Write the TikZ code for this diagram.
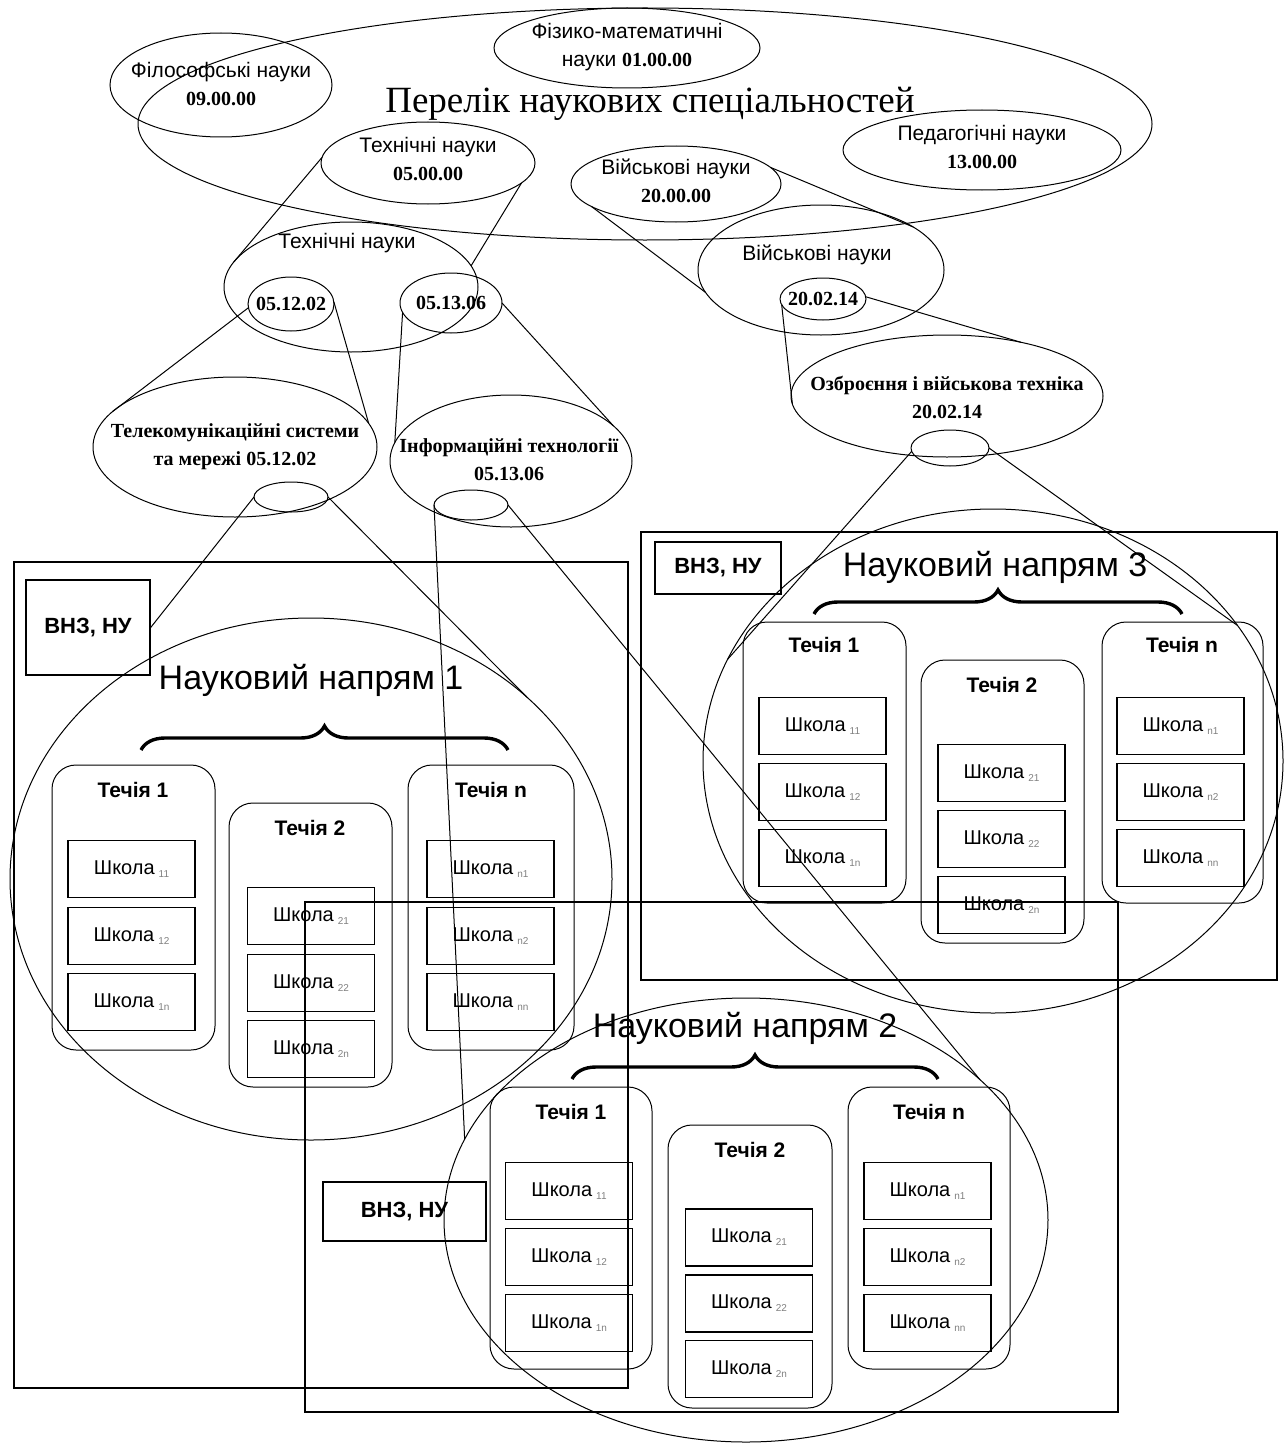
\documentclass[tikz,border=0pt]{standalone}
\usepackage{fontspec}
\setmainfont{Liberation Serif}
\setsansfont{Liberation Sans}
\usetikzlibrary{shapes.geometric,decorations.pathreplacing}
\newcommand{\kod}[1]{{\rmfamily\bfseries\fontsize{10}{12}\selectfont #1}}
\newcommand{\indx}[1]{\hspace{2pt}\raisebox{-1.5pt}{\textcolor{gray}{\fontsize{5}{6}\selectfont #1}}}

\begin{document}
\begin{tikzpicture}[x=0.5pt,y=0.5pt,yscale=-1,xscale=1,
 ell/.style={draw,ellipse,inner sep=0pt,outer sep=0pt,line width=0.5pt},
 nauka/.style={font=\sffamily\fontsize{10.5}{14}\selectfont,align=center,inner sep=0pt},
 kodtxt/.style={font=\bfseries\fontsize{10}{14}\selectfont,align=center,inner sep=0pt},
 napryam/.style={font=\sffamily\fontsize{17}{20}\selectfont,inner sep=0pt},
 techia/.style={font=\sffamily\bfseries\fontsize{10.5}{12}\selectfont,inner sep=0pt},
 shkola/.style={draw,line width=0.7pt,minimum width=63.5pt,minimum height=28.5pt,inner sep=0pt,font=\sffamily\fontsize{10}{12}\selectfont},
 vnz/.style={draw,line width=0.7pt,inner sep=0pt,font=\sffamily\bfseries\fontsize{11}{13}\selectfont},
 potik/.style={line width=0.5pt,rounded corners=12pt},
 blok/.style={line width=0.7pt},
 duzhka/.style={decorate,decoration={brace,amplitude=12pt},line width=1.7pt},
 zv/.style={line width=0.5pt}]
\path[use as bounding box] (0,0) rectangle (1286,1445);

%Shape: Ellipse - list of specialities
\node[ell,minimum width=507pt,minimum height=116pt] (perelik) at (645,124) {};
% Text Node
\node[font=\fontsize{18.5}{22}\selectfont,inner sep=0pt] (perelik-t) at (650,104) {Перелік наукових спеціальностей};

%Shape: Ellipse
\node[ell,minimum width=111pt,minimum height=52pt] (filos) at (221,85) {};
\node[ell,minimum width=133pt,minimum height=40pt] (fizmat) at (627,48) {};
\node[ell,minimum width=107pt,minimum height=41pt] (tekhn) at (428,163) {};
\node[ell,minimum width=105pt,minimum height=38pt] (viysk) at (676,184) {};
\node[ell,minimum width=139pt,minimum height=40pt] (pedag) at (982,150) {};
% Text Node
\node[nauka] (filos-t) at (221,84) {Філософські науки\\\kod{09.00.00}};
\node[nauka] (fizmat-t) at (627,47) {Фізико-математичні\\науки \kod{01.00.00}};
\node[nauka] (tekhn-t) at (428,159) {Технічні науки\\\kod{05.00.00}};
\node[nauka] (viysk-t) at (676,181) {Військові науки\\\kod{20.00.00}};
\node[nauka] (pedag-t) at (982,147) {Педагогічні науки\\\kod{13.00.00}};

%Shape: Ellipse - second level
\node[ell,minimum width=127pt,minimum height=65pt] (tekhn2) at (351,287) {};
\node[ell,minimum width=43pt,minimum height=27pt] (k051202) at (291,304) {};
\node[ell,minimum width=51pt,minimum height=30pt] (k051306) at (451,303) {};
\node[ell,minimum width=123pt,minimum height=65pt] (viysk2) at (821,270) {};
\node[ell,minimum width=43pt,minimum height=21pt] (k200214) at (823,299) {};
% Text Node
\node[nauka] (tekhn2-t) at (347,243) {Технічні науки};
\node[kodtxt] (k051202-t) at (291,304) {05.12.02};
\node[kodtxt] (k051306-t) at (451,303) {05.13.06};
\node[nauka] (viysk2-t) at (817,255) {Військові науки};
\node[kodtxt] (k200214-t) at (823,299) {20.02.14};

%Shape: Ellipse - third level
\node[ell,minimum width=142pt,minimum height=70pt] (telekom) at (235,447) {};
\node[ell,minimum width=121pt,minimum height=66pt] (inform) at (511,461) {};
\node[ell,minimum width=156pt,minimum height=61pt] (ozbr) at (947,396) {};
\node[ell,minimum width=37pt,minimum height=15pt] (telekomS) at (291,497) {};
\node[ell,minimum width=37pt,minimum height=15pt] (informS) at (471,505) {};
\node[ell,minimum width=39pt,minimum height=18pt] (ozbrS) at (950,448) {};
% Text Node
\node[kodtxt] (telekom-t) at (235,447) {Телекомунікаційні системи\\та мережі 05.12.02};
\node[kodtxt] (inform-t) at (509,460) {Інформаційні технології\\05.13.06};
\node[kodtxt] (ozbr-t) at (947,397) {Озброєння і військова техніка\\20.02.14};

%Shape: Rectangle - block 1
\draw[blok] (14,562) rectangle (628,1388);
\node[vnz,minimum width=62pt,minimum height=47.5pt] (vnz1) at (88,627.5) {ВНЗ, НУ};
\node[ell,minimum width=301pt,minimum height=261pt] (nn1) at (311,879) {};
\node[napryam] (nn1-t) at (311,680) {Науковий напрям 1};
\draw[duzhka] (141,750) -- (508,750);
%Shape: Rounded Rect
\draw[potik] (52,765) rectangle (215,1050);
\draw[potik] (229,803) rectangle (392,1087);
\draw[potik] (408,765) rectangle (574,1050);
% Text Node
\node[techia] (b1t1) at (133,790) {Течія 1};
\node[techia] (b1t2) at (310,828) {Течія 2};
\node[techia] (b1tn) at (491,790) {Течія n};
\node[shkola] (b1s11) at (131.5,869) {Школа\indx{11}};
\node[shkola] (b1s12) at (131.5,936) {Школа\indx{12}};
\node[shkola] (b1s1n) at (131.5,1002) {Школа\indx{1n}};
\node[shkola] (b1s21) at (311,916) {Школа\indx{21}};
\node[shkola] (b1s22) at (311,983) {Школа\indx{22}};
\node[shkola] (b1s2n) at (311,1049) {Школа\indx{2n}};
\node[shkola] (b1sn1) at (490.5,869) {Школа\indx{n1}};
\node[shkola] (b1sn2) at (490.5,936) {Школа\indx{n2}};
\node[shkola] (b1snn) at (490.5,1002) {Школа\indx{nn}};

%Shape: Rectangle - block 3
\draw[blok] (641,532) rectangle (1277,980);
\node[vnz,minimum width=63pt,minimum height=26pt] (vnz3) at (718,568) {ВНЗ, НУ};
\node[ell,minimum width=290pt,minimum height=252pt] (nn3) at (993,761) {};
\node[napryam] (nn3-t) at (995,567) {Науковий напрям 3};
\draw[duzhka] (814,614) -- (1182,614);
%Shape: Rounded Rect
\draw[potik] (743,622) rectangle (906,903);
\draw[potik] (921,660) rectangle (1084,943);
\draw[potik] (1102,622) rectangle (1263,903);
% Text Node
\node[techia] (b3t1) at (824,645) {Течія 1};
\node[techia] (b3t2) at (1002,685) {Течія 2};
\node[techia] (b3tn) at (1182,645) {Течія n};
\node[shkola] (b3s11) at (822.5,726) {Школа\indx{11}};
\node[shkola] (b3s12) at (822.5,792) {Школа\indx{12}};
\node[shkola] (b3s1n) at (822.5,858) {Школа\indx{1n}};
\node[shkola] (b3s21) at (1001.5,773) {Школа\indx{21}};
\node[shkola] (b3s22) at (1001.5,839) {Школа\indx{22}};
\node[shkola] (b3s2n) at (1001.5,905) {Школа\indx{2n}};
\node[shkola] (b3sn1) at (1180.5,726) {Школа\indx{n1}};
\node[shkola] (b3sn2) at (1180.5,792) {Школа\indx{n2}};
\node[shkola] (b3snn) at (1180.5,858) {Школа\indx{nn}};

%Shape: Rectangle - block 2
\draw[blok] (305,902) rectangle (1118,1412);
\node[vnz,minimum width=81.5pt,minimum height=29.5pt] (vnz2) at (404.5,1211.5) {ВНЗ, НУ};
\node[ell,minimum width=302pt,minimum height=222pt] (nn2) at (746,1220) {};
\node[napryam] (nn2-t) at (745,1028) {Науковий напрям 2};
\draw[duzhka] (572,1079) -- (938,1079);
%Shape: Rounded Rect
\draw[potik] (490,1087) rectangle (652,1369);
\draw[potik] (668,1125) rectangle (832,1408);
\draw[potik] (848,1087) rectangle (1010,1369);
% Text Node
\node[techia] (b2t1) at (571,1112) {Течія 1};
\node[techia] (b2t2) at (750,1150) {Течія 2};
\node[techia] (b2tn) at (929,1112) {Течія n};
\node[shkola] (b2s11) at (569,1191) {Школа\indx{11}};
\node[shkola] (b2s12) at (569,1257) {Школа\indx{12}};
\node[shkola] (b2s1n) at (569,1323) {Школа\indx{1n}};
\node[shkola] (b2s21) at (749,1237.5) {Школа\indx{21}};
\node[shkola] (b2s22) at (749,1303.5) {Школа\indx{22}};
\node[shkola] (b2s2n) at (749,1369) {Школа\indx{2n}};
\node[shkola] (b2sn1) at (927.5,1191) {Школа\indx{n1}};
\node[shkola] (b2sn2) at (927.5,1257) {Школа\indx{n2}};
\node[shkola] (b2snn) at (927.5,1323) {Школа\indx{nn}};

%Straight Lines
\draw[zv] (tekhn.177) -- (tekhn2.168);
\draw[zv] (tekhn.348) -- (tekhn2.10);
\draw[zv] (viysk.195) -- (viysk2.191);
\draw[zv] (viysk.10) -- (viysk2.25);
\draw[zv] (k051202.185) -- (telekom.164);
\draw[zv] (k051202.3) -- (telekom.10);
\draw[zv] (k051306.191) -- (inform.171);
\draw[zv] (k051306.0) -- (inform.19);
\draw[zv] (k200214.188) -- (ozbr.183);
\draw[zv] (k200214.3) -- (ozbr.36);
\draw[zv] (telekomS.180) -- (vnz1.east);
\draw[zv] (telekomS.0) -- (nn1.40);
\draw[zv] (informS.180) -- (nn2.164);
\draw[zv] (informS.0) -- (nn2.31);
\draw[zv] (ozbrS.185) -- (nn3.159);
\draw[zv] (ozbrS.0) -- (nn3.29);

\end{tikzpicture}
\end{document}
